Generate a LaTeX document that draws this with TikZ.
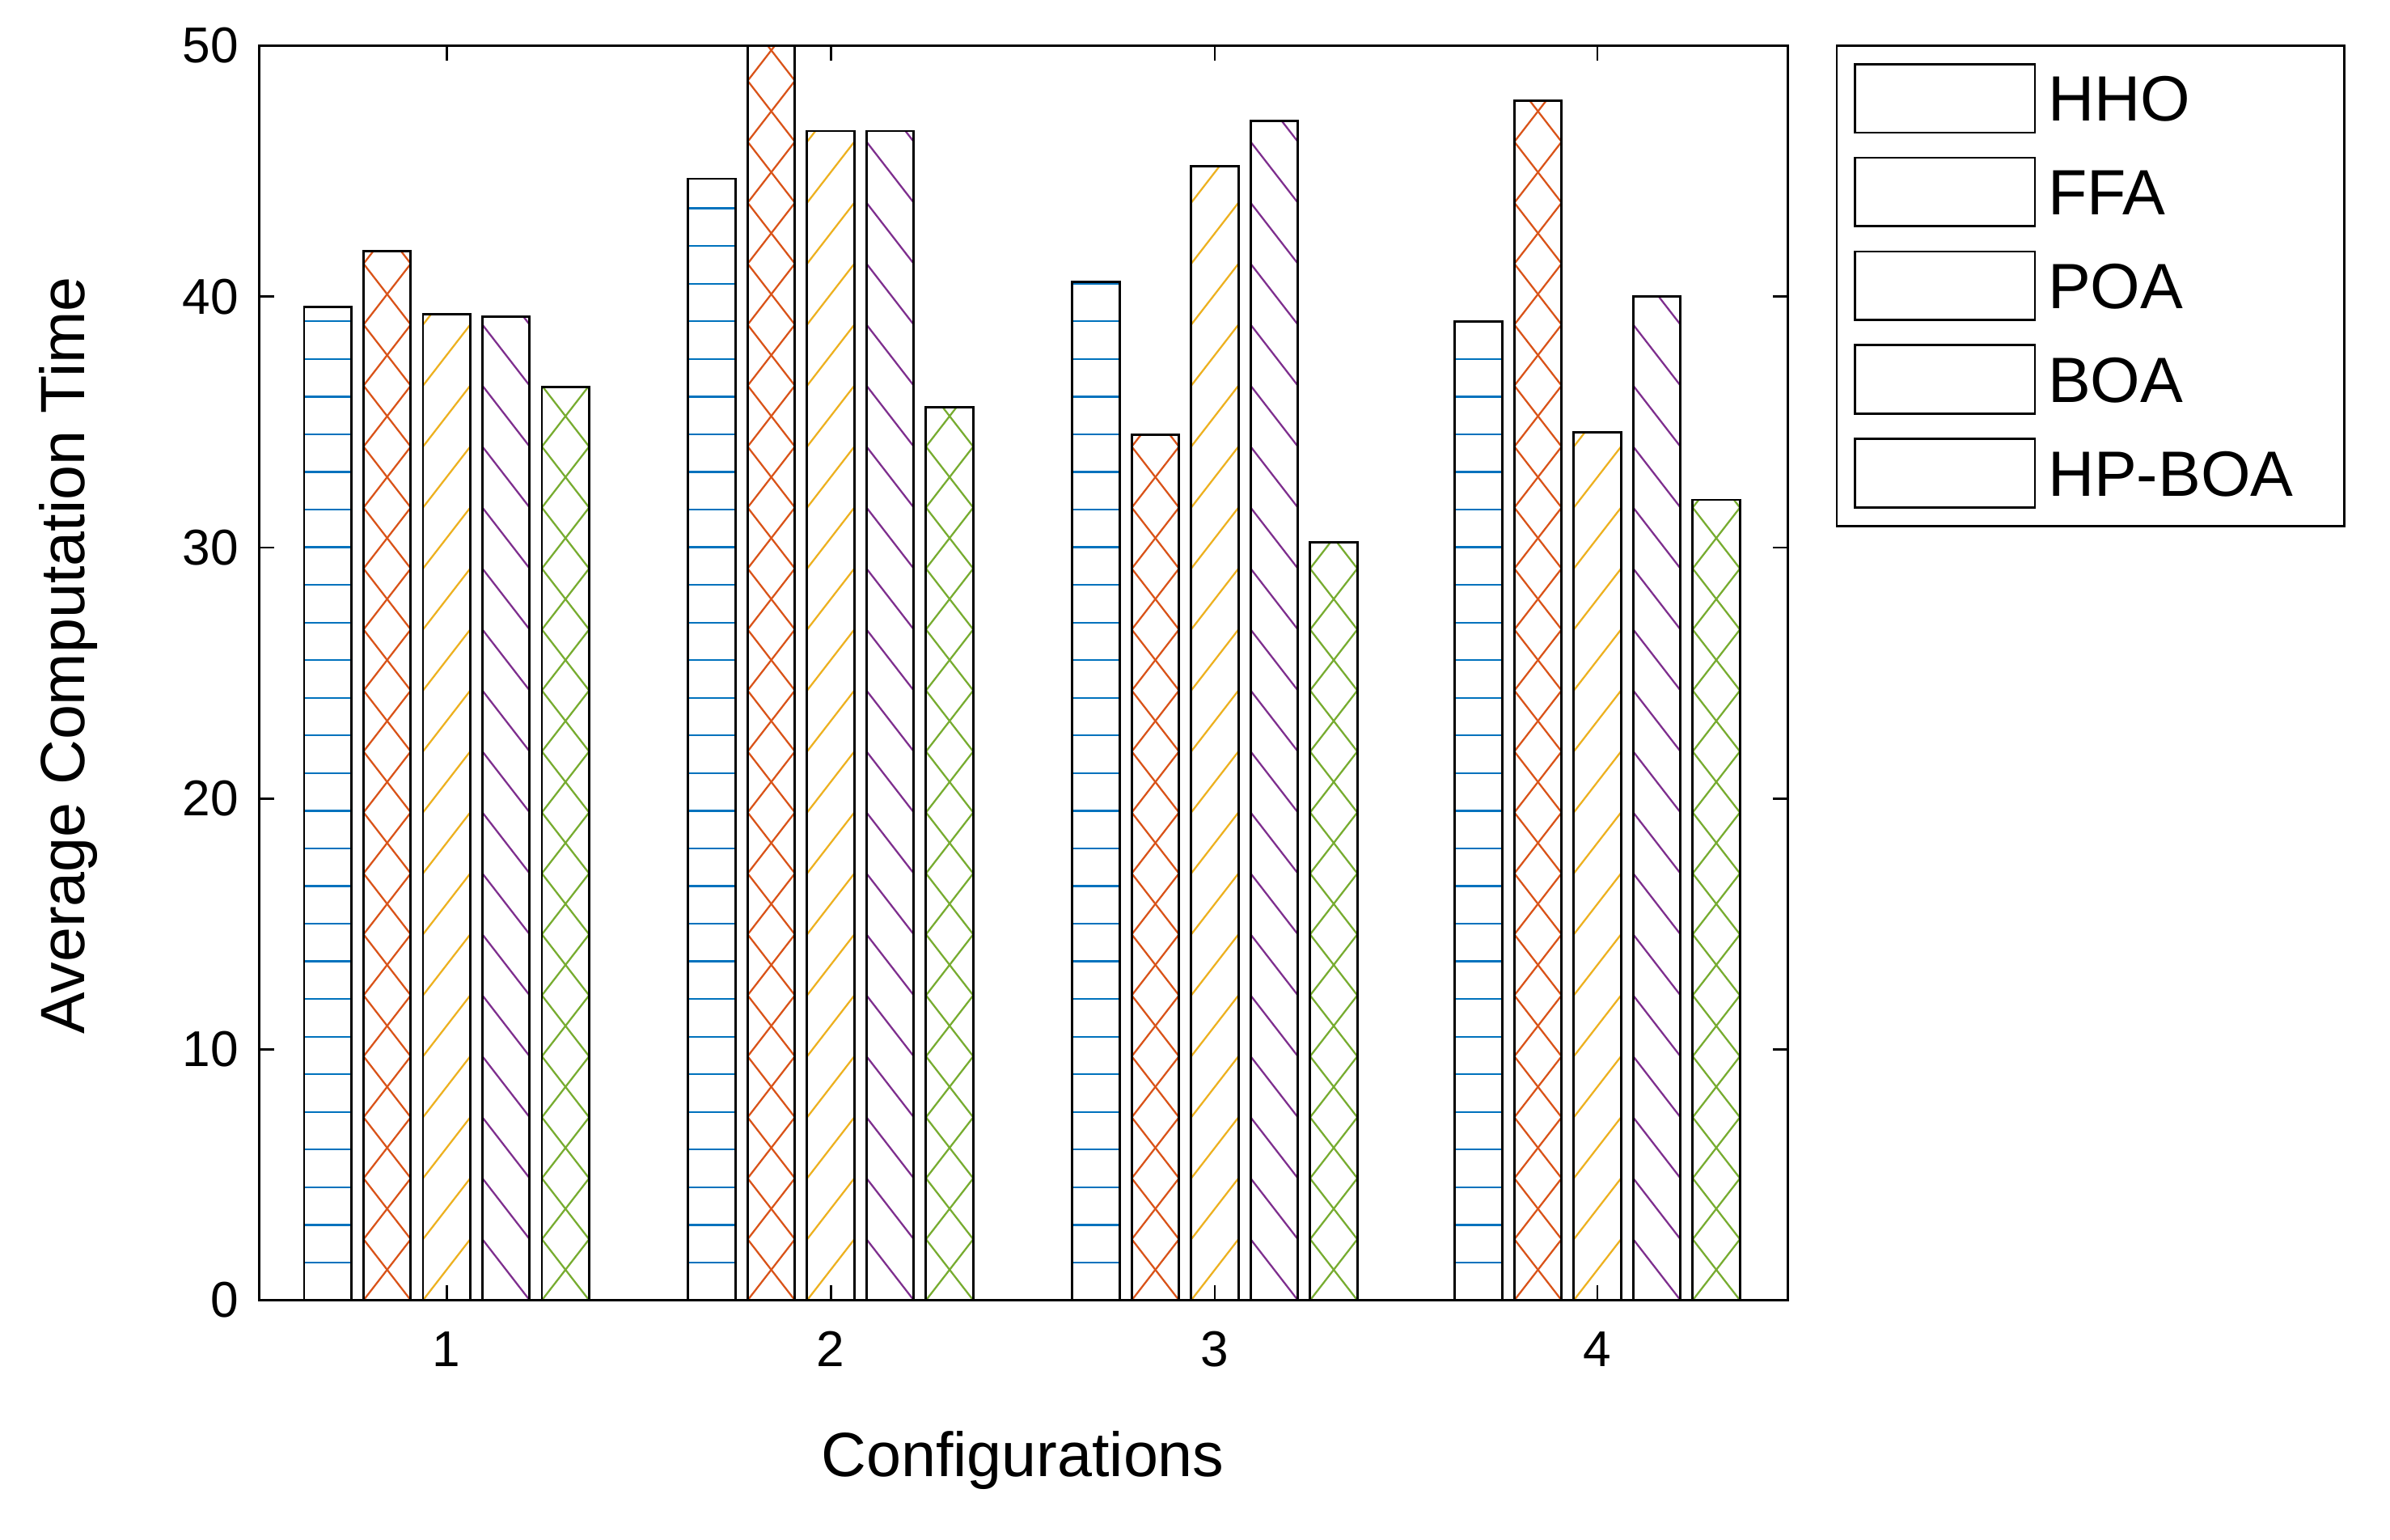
\documentclass[tikz,border=0pt]{standalone}
\usepackage{fontspec}
\setmainfont{Liberation Sans}
\definecolor{cH}{RGB}{0,114,189}
\definecolor{cF}{RGB}{217,83,25}
\definecolor{cP}{RGB}{237,177,32}
\definecolor{cB}{RGB}{126,47,142}
\definecolor{cG}{RGB}{119,172,48}
% #1 left x, #2 top y, #3 width, #4 bottom y, #5 colour, #6 type, #7 spacing
\newcommand\mybar[7]{%
 \begin{scope}
 \clip (#1,#4) rectangle ({#1+#3},#2);
 \ifx h#6\foreach \k in {0,...,40}{\draw[#5,line width=1.2pt] (#1,{#4-\k*#7}) -- ++(#3,0);}\fi
 \ifx s#6\foreach \k in {-3,...,25}{\draw[#5,line width=1.2pt] (#1,{#4-\k*#7}) -- ++(#3,{-#7});}\fi
 \ifx b#6\foreach \k in {-3,...,25}{\draw[#5,line width=1.2pt] (#1,{#4-\k*#7}) -- ++(#3,{#7});}\fi
 \ifx x#6\foreach \k in {-3,...,25}{\draw[#5,line width=1.2pt] (#1,{#4-\k*#7}) -- ++(#3,{-#7}); \draw[#5,line width=1.2pt] (#1,{#4-\k*#7}) -- ++(#3,{#7});}\fi
 \end{scope}
 \draw[line width=1.5pt] (#1,#4) rectangle ({#1+#3},#2);}
\begin{document}
\begin{tikzpicture}[x=1pt,y=-1pt]
\useasboundingbox[fill=white] (0,0) rectangle (1568,1010);
% bars
\foreach \g/\a/\b/\c/\d/\e in {293/39.6/41.8/39.3/39.2/36.4, 545/44.7/50/46.6/46.6/35.6, 797/40.6/34.5/45.2/47.0/30.2, 1048/39.0/47.8/34.6/40.0/31.9}{
 \pgfmathsetmacro\xa{\g-93.5}\pgfmathsetmacro\ya{853-16.46*\a}
 \mybar{\xa}{\ya}{31}{853}{cH}{h}{24.7}
 \pgfmathsetmacro\xa{\g-54.5}\pgfmathsetmacro\ya{853-16.46*\b}
 \mybar{\xa}{\ya}{31}{853}{cF}{x}{40}
 \pgfmathsetmacro\xa{\g-15.5}\pgfmathsetmacro\ya{853-16.46*\c}
 \mybar{\xa}{\ya}{31}{853}{cP}{s}{40}
 \pgfmathsetmacro\xa{\g+23.5}\pgfmathsetmacro\ya{853-16.46*\d}
 \mybar{\xa}{\ya}{31}{853}{cB}{b}{40}
 \pgfmathsetmacro\xa{\g+62.5}\pgfmathsetmacro\ya{853-16.46*\e}
 \mybar{\xa}{\ya}{31}{853}{cG}{x}{40}
}
% axes
\draw[line width=1.5pt] (170,30) rectangle (1173,853);
\foreach \v in {0,10,...,50}{
 \pgfmathsetmacro\yy{853-16.46*\v}
 \draw[line width=1.5pt] (170,\yy) -- ++(10,0) (1173,\yy) -- ++(-10,0);
 \node[anchor=east,font=\fontsize{33}{33}\selectfont] (yt\v) at (160,\yy) {\v};}
\foreach \g/\n in {293/1,545/2,797/3,1048/4}{
 \draw[line width=1.5pt] (\g,853) -- ++(0,-10) (\g,30) -- ++(0,10);
 \node[anchor=north,font=\fontsize{33}{33}\selectfont] (xt\n) at (\g,870) {\n};}
\node[font=\fontsize{41}{41}\selectfont] (xl) at (671,958) {Configurations};
\node[font=\fontsize{41}{41}\selectfont,rotate=90] (yl) at (45,430) {Average Computation Time};
% legend
\draw[line width=1.5pt,fill=white] (1205,30) rectangle (1538,345);
\foreach \i/\c/\t/\s/\l in {0/cH/h/8/HHO,1/cF/x/20/FFA,2/cP/s/25/POA,3/cB/b/25/BOA,4/cG/x/22/HP-BOA}{
 \pgfmathsetmacro\yt{42+61.5*\i}\pgfmathsetmacro\yb{\yt+45}
 \mybar{1217}{\yt}{118}{\yb}{\c}{\t}{\s}
 \node[anchor=west,font=\fontsize{42}{42}\selectfont] (lg\i) at (1340,{\yt+23}) {\l};}
\end{tikzpicture}
\end{document}
